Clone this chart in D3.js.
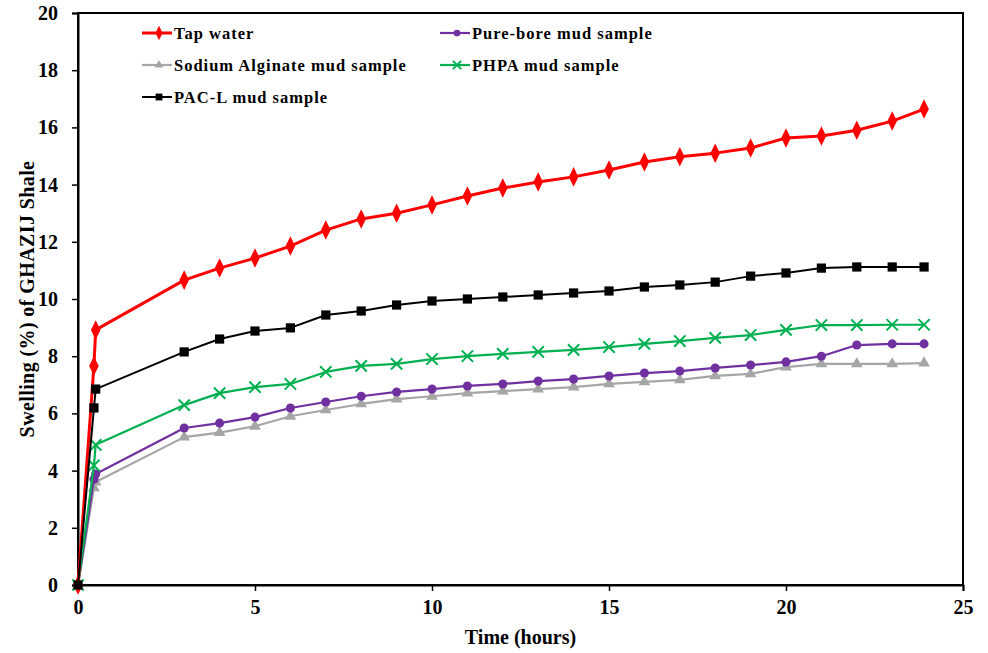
<!DOCTYPE html>
<html>
<head>
<meta charset="utf-8">
<script src="https://cdn.jsdelivr.net/npm/d3@7"></script>
<style>
  body { margin: 0; background: #fff; }
  text { font-family: "Liberation Serif", "Times New Roman", serif; font-weight: bold; }
</style>
</head>
<body>
<div id="chart"></div>
<script>
// time in hours
var hours = [0, 0.45, 0.5, 3, 4, 5, 6, 7, 8, 9, 10, 11, 12, 13, 14, 15, 16, 17, 18, 19, 20, 21, 22, 23, 23.9];

var tapWater = [0, 7.66, 8.92, 10.66, 11.08, 11.43, 11.85, 12.41, 12.8, 13.0, 13.29, 13.6, 13.88, 14.09, 14.27, 14.51, 14.79, 14.97, 15.1, 15.28, 15.63, 15.7, 15.9, 16.22, 16.64];
var pureBore = [0, 3.7, 3.88, 5.49, 5.66, 5.87, 6.19, 6.4, 6.6, 6.75, 6.85, 6.96, 7.03, 7.13, 7.2, 7.31, 7.41, 7.48, 7.59, 7.69, 7.8, 8.0, 8.39, 8.43, 8.43];
var sodiumAlginate = [0, 3.4, 3.6, 5.17, 5.33, 5.55, 5.9, 6.12, 6.33, 6.5, 6.6, 6.71, 6.78, 6.85, 6.92, 7.03, 7.1, 7.17, 7.31, 7.38, 7.62, 7.73, 7.73, 7.73, 7.76];
var phpa = [0, 4.18, 4.9, 6.29, 6.71, 6.92, 7.03, 7.45, 7.66, 7.73, 7.9, 8.0, 8.08, 8.15, 8.22, 8.32, 8.43, 8.53, 8.64, 8.74, 8.92, 9.09, 9.09, 9.1, 9.1];
var pacL = [0, 6.19, 6.85, 8.15, 8.6, 8.88, 8.99, 9.44, 9.58, 9.79, 9.93, 10.0, 10.07, 10.14, 10.21, 10.28, 10.42, 10.49, 10.59, 10.8, 10.91, 11.08, 11.12, 11.12, 11.12];

var xTicks = [0, 5, 10, 15, 20, 25];
var yTicks = [0, 2, 4, 6, 8, 10, 12, 14, 16, 18, 20];

var series = [
  { name: "Tap water", values: tapWater, color: "#ff0000", width: 3, marker: "diamond" },
  { name: "Sodium Alginate mud sample", values: sodiumAlginate, color: "#a6a6a6", width: 2.2, marker: "triangle" },
  { name: "PHPA mud sample", values: phpa, color: "#00b050", width: 2.2, marker: "cross" },
  { name: "Pure-bore mud sample", values: pureBore, color: "#7030a0", width: 2.2, marker: "circle" },
  { name: "PAC-L mud sample", values: pacL, color: "#000000", width: 2, marker: "square" }
];

var legendOrder = [
  ["Tap water", 0, 0], ["Pure-bore mud sample", 1, 0],
  ["Sodium Alginate mud sample", 0, 1], ["PHPA mud sample", 1, 1],
  ["PAC-L mud sample", 0, 2]
];

var W = 988, H = 653;
var plotL = 78, plotR = 963, plotT = 13, plotB = 585;

var svg = d3.select("#chart").append("svg").attr("width", W).attr("height", H);

var x = d3.scaleLinear().domain([0, 25]).range([plotL, plotR]);
var y = d3.scaleLinear().domain([0, 20]).range([plotB, plotT]);

// frame
svg.append("rect")
  .attr("x", plotL).attr("y", plotT)
  .attr("width", plotR - plotL).attr("height", plotB - plotT)
  .style("fill", "none").style("stroke", "#000").style("stroke-width", "2px");

var xAxis = svg.append("g")
  .attr("transform", "translate(0," + plotB + ")")
  .call(d3.axisBottom(x).tickValues(xTicks).tickSize(6).tickPadding(9).tickFormat(d3.format("d")));
var yAxis = svg.append("g")
  .attr("transform", "translate(" + plotL + ",0)")
  .call(d3.axisLeft(y).tickValues(yTicks).tickSize(6).tickPadding(14).tickFormat(d3.format("d")));

[xAxis, yAxis].forEach(function(a) {
  a.select(".domain").style("stroke", "#000").style("stroke-width", "2px");
  a.selectAll(".tick line").style("stroke", "#000").style("stroke-width", "1.5px");
  a.selectAll("text").style("font-size", "20px").style("fill", "#000")
    .style("font-family", "'Liberation Serif', serif").style("font-weight", "bold");
});

svg.append("text")
  .attr("x", (plotL + plotR) / 2).attr("y", 644)
  .attr("text-anchor", "middle")
  .style("font-size", "20px")
  .text("Time (hours)");

svg.append("text")
  .attr("transform", "translate(34," + ((plotT + plotB) / 2) + ") rotate(-90)")
  .attr("text-anchor", "middle")
  .style("font-size", "20px")
  .style("letter-spacing", "0.4px")
  .text("Swelling (%)  of GHAZIJ Shale");

function drawMarker(g, type, color, size) {
  if (type === "diamond") {
    g.append("path").attr("d", d3.symbol().type(d3.symbolDiamond).size(size * 110)())
      .attr("transform", "scale(0.85,1)").style("fill", color);
  } else if (type === "square") {
    g.append("path").attr("d", d3.symbol().type(d3.symbolSquare).size(size * 85)()).style("fill", color);
  } else if (type === "circle") {
    g.append("path").attr("d", d3.symbol().type(d3.symbolCircle).size(size * 65)()).style("fill", color);
  } else if (type === "triangle") {
    g.append("path").attr("d", d3.symbol().type(d3.symbolTriangle).size(size * 60)()).style("fill", color);
  } else if (type === "cross") {
    g.append("path").attr("d", d3.symbol().type(d3.symbolX).size(size * 85)())
      .style("fill", "none").style("stroke", color).style("stroke-width", "2px");
  }
}

var line = d3.line()
  .x(function(d) { return x(d[0]); })
  .y(function(d) { return y(d[1]); });

var drawOrder = ["Sodium Alginate mud sample", "Pure-bore mud sample", "PHPA mud sample", "Tap water", "PAC-L mud sample"];

drawOrder.forEach(function(nm) {
  var s = series.find(function(t) { return t.name === nm; });
  var pts = hours.map(function(h, i) { return [h, s.values[i]]; });
  svg.append("path")
    .datum(pts)
    .attr("d", line)
    .style("fill", "none")
    .style("stroke", s.color)
    .style("stroke-width", s.width + "px")
    .style("stroke-linejoin", "round");
  pts.forEach(function(p) {
    var g = svg.append("g").attr("transform", "translate(" + x(p[0]) + "," + y(p[1]) + ")");
    drawMarker(g, s.marker, s.color, 1);
  });
});

// legend
var colX = [142, 440], rowY = [33, 65, 97];
legendOrder.forEach(function(l) {
  var s = series.find(function(t) { return t.name === l[0]; });
  var lx = colX[l[1]], ly = rowY[l[2]];
  svg.append("line")
    .attr("x1", lx).attr("x2", lx + 30).attr("y1", ly).attr("y2", ly)
    .style("stroke", s.color).style("stroke-width", s.width + "px");
  var g = svg.append("g").attr("transform", "translate(" + (lx + 17) + "," + ly + ")");
  drawMarker(g, s.marker, s.color, 0.55);
  svg.append("text")
    .attr("x", lx + 32).attr("y", ly + 6)
    .style("font-size", "16.5px")
    .style("letter-spacing", "1px")
    .text(s.name);
});
</script>
</body>
</html>
